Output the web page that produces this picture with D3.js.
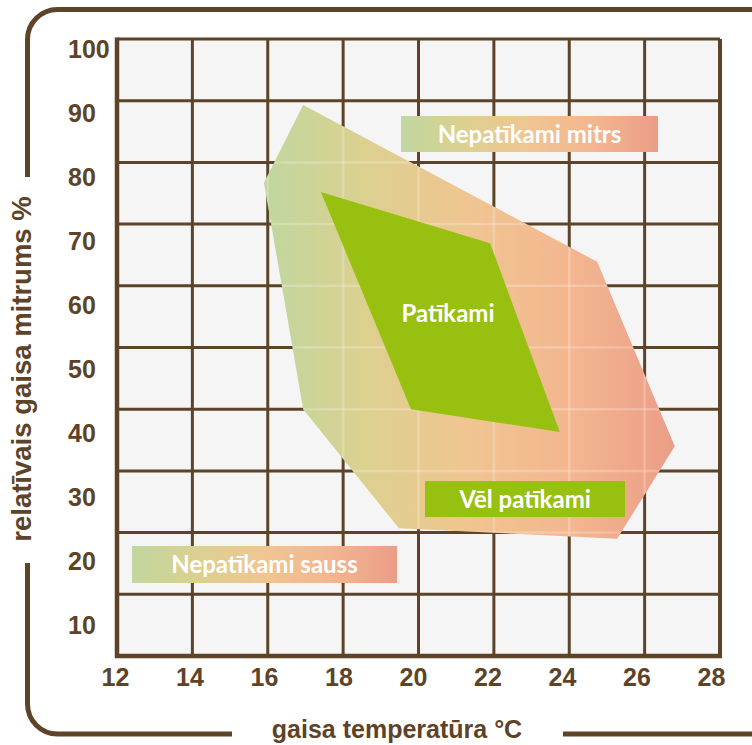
<!DOCTYPE html>
<html>
<head>
<meta charset="utf-8">
<script src="https://cdn.jsdelivr.net/npm/d3@7"></script>
<style>
  html, body { margin: 0; padding: 0; background: #fff; }
  svg { display: block; }
</style>
</head>
<body>
<div id="chart"></div>
<script>
// dati
const xTicks = [12, 14, 16, 18, 20, 22, 24, 26, 28];
const yTicks = [10, 20, 30, 40, 50, 60, 70, 80, 90, 100];

// "vēl patīkami" zona (temperatūra, mitrums)
const zoneTemp = [16.94, 15.9, 16.94, 19.48, 25.27, 26.8, 24.74];
const zoneHum = [89.3, 76.7, 40.0, 20.7, 19.0, 34.0, 63.9];

// "patīkami" zona
const comfortTemp = [17.41, 21.9, 23.75, 19.8];
const comfortHum = [75.2, 66.9, 36.3, 40.0];

const labels = ["Nepatīkami mitrs", "Patīkami", "Vēl patīkami", "Nepatīkami sauss"];
const xTitle = "gaisa temperatūra °C";
const yTitle = "relatīvais gaisa mitrums %";

const width = 752, height = 745;
const brown = "#5d4327";
const grad = ["#c0d79f", "#dcd08f", "#f0c591", "#f3b690", "#eb9d86"];

const svg = d3.select("#chart").append("svg")
  .attr("width", width)
  .attr("height", height);

const x = d3.scaleLinear().domain([12, 28]).range([117, 720]);
const y = d3.scaleLinear().domain([0, 100]).range([656, 39]);
// etiķešu novietojums nav gluži uz režģa līnijām
const xLab = d3.scaleLinear().domain([12, 28]).range([115, 711]);
const yLab = d3.scaleLinear().domain([10, 100]).range([625, 49]);

const defs = svg.append("defs");
function addGrad(id) {
  const g = defs.append("linearGradient").attr("id", id)
    .attr("x1", 0).attr("x2", 1).attr("y1", 0).attr("y2", 0);
  grad.forEach((c, i) => g.append("stop")
    .attr("offset", i / (grad.length - 1)).attr("stop-color", c));
  return g;
}
addGrad("zoneGrad");
addGrad("boxGrad");

// rāmis
svg.append("path")
  .attr("d", "M752,9.5 H57.5 A30,30 0 0 0 27.5,39.5 V177 M27.5,563 V704 A30,30 0 0 0 57.5,734 H232 M563,734 H752")
  .attr("fill", "none")
  .attr("stroke", brown)
  .attr("stroke-width", 5);

// fons
svg.append("rect")
  .attr("x", x(12)).attr("y", y(100))
  .attr("width", x(28) - x(12)).attr("height", y(0) - y(100))
  .attr("fill", "#f5f5f5");

// režģis
const grid = svg.append("g").attr("stroke", brown).attr("stroke-width", 3);
grid.selectAll("line.v").data(xTicks.slice(1, -1)).join("line")
  .attr("class", "v")
  .attr("x1", d => x(d)).attr("x2", d => x(d))
  .attr("y1", y(100)).attr("y2", y(0));
grid.selectAll("line.h").data(yTicks.slice(0, -1)).join("line")
  .attr("class", "h")
  .attr("x1", x(12)).attr("x2", x(28))
  .attr("y1", d => y(d)).attr("y2", d => y(d));

const zonePts = zoneTemp.map((t, i) => [x(t), y(zoneHum[i])]);
const comfortPts = comfortTemp.map((t, i) => [x(t), y(comfortHum[i])]);

svg.append("polygon")
  .attr("points", zonePts.map(p => p.join(",")).join(" "))
  .attr("fill", "url(#zoneGrad)");

// gaišās režģa pēdas zonas iekšpusē
defs.append("clipPath").attr("id", "zoneClip")
  .append("polygon").attr("points", zonePts.map(p => p.join(",")).join(" "));
const ghost = svg.append("g").attr("clip-path", "url(#zoneClip)")
  .attr("stroke", "#fff").attr("stroke-opacity", 0.22).attr("stroke-width", 2.5);
ghost.selectAll("line.v").data(xTicks.slice(1, -1)).join("line")
  .attr("class", "v")
  .attr("x1", d => x(d)).attr("x2", d => x(d))
  .attr("y1", y(100)).attr("y2", y(0));
ghost.selectAll("line.h").data(yTicks.slice(0, -1)).join("line")
  .attr("class", "h")
  .attr("x1", x(12)).attr("x2", x(28))
  .attr("y1", d => y(d)).attr("y2", d => y(d));

svg.append("polygon")
  .attr("points", comfortPts.map(p => p.join(",")).join(" "))
  .attr("fill", "#98c011");

// uzraksti
const boxes = [
  { text: labels[0], x: 401, y: 116, w: 257, h: 36, fill: "url(#boxGrad)" },
  { text: labels[2], x: 425, y: 481, w: 200, h: 36, fill: "#98c011" },
  { text: labels[3], x: 132, y: 546, w: 265, h: 37, fill: "url(#boxGrad)" }
];
svg.selectAll("rect.box").data(boxes).join("rect")
  .attr("class", "box")
  .attr("x", d => d.x).attr("y", d => d.y)
  .attr("width", d => d.w).attr("height", d => d.h)
  .attr("fill", d => d.fill);

const textStyle = sel => sel
  .attr("fill", "#fff")
  .attr("font-family", "Lato, 'Open Sans', sans-serif")
  .attr("font-weight", 700)
  .attr("font-size", 24)
  .attr("text-anchor", "middle");

svg.selectAll("text.box").data(boxes).join("text")
  .attr("class", "box")
  .attr("x", d => d.x + d.w / 2)
  .attr("y", d => d.y + d.h / 2 + 8.5)
  .text(d => d.text)
  .call(textStyle);

svg.append("text")
  .attr("x", 448).attr("y", 322)
  .text(labels[1])
  .call(textStyle);

// ass malas
svg.append("line").attr("x1", x(12)).attr("x2", x(28)).attr("y1", y(100)).attr("y2", y(100))
  .attr("stroke", brown).attr("stroke-width", 3);
svg.append("line").attr("x1", x(28)).attr("x2", x(28)).attr("y1", y(100)).attr("y2", y(0))
  .attr("stroke", brown).attr("stroke-width", 4);
svg.append("path")
  .attr("d", `M${x(12)},${y(100) - 1.5} V${y(0)} H${x(28) + 2}`)
  .attr("fill", "none").attr("stroke", brown).attr("stroke-width", 4.5);

// asis
const axisFont = "'Liberation Sans', Arial, sans-serif";
const gx = svg.append("g")
  .attr("transform", "translate(0,668)")
  .call(d3.axisBottom(xLab).tickValues(xTicks).tickSize(0).tickPadding(0));
gx.select(".domain").remove();
gx.selectAll("text")
  .attr("fill", brown).attr("font-family", axisFont)
  .attr("font-weight", 700).attr("font-size", 25);

const gy = svg.append("g")
  .attr("transform", "translate(68,0)")
  .call(d3.axisLeft(yLab).tickValues(yTicks).tickSize(0).tickPadding(0));
gy.select(".domain").remove();
gy.selectAll("text")
  .attr("x", 0).attr("text-anchor", "start")
  .attr("fill", brown).attr("font-family", axisFont)
  .attr("font-weight", 700).attr("font-size", 25);

svg.append("text")
  .attr("x", 397).attr("y", 738)
  .attr("text-anchor", "middle")
  .attr("fill", brown).attr("font-family", axisFont)
  .attr("font-weight", 700).attr("font-size", 25)
  .text(xTitle);

svg.append("text")
  .attr("transform", "translate(31,369) rotate(-90)")
  .attr("text-anchor", "middle")
  .attr("fill", brown).attr("font-family", axisFont)
  .attr("font-weight", 700).attr("font-size", 27.5)
  .text(yTitle);
</script>
</body>
</html>
